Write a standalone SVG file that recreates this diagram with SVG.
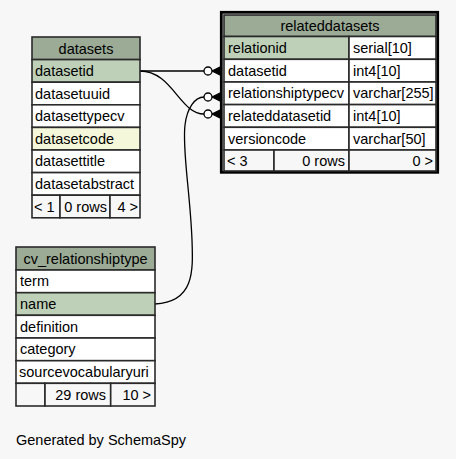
<svg xmlns="http://www.w3.org/2000/svg" width="456" height="459" viewBox="0 0 456 459">
<style>
text{font-family:"Liberation Sans",Arial,Helvetica,sans-serif;font-size:14.5px;fill:#000}
.c{stroke:#2a2a2a;stroke-width:1.6}
.h{fill:#9bab96}
.pk{fill:#bed1b8}
.ix{fill:#f4f7da}
.w{fill:#ffffff}
.f{fill:#f7f7f7}
.mid{text-anchor:middle}
.end{text-anchor:end}
.e{fill:none;stroke:#000;stroke-width:1.3}
.o{fill:#fff;stroke:#000;stroke-width:1.3}
</style>
<rect width="456" height="459" fill="#f7f7f7"/>

<g id="connectors">
<path class="e" d="M140,71 L204,71"/>
<path class="e" d="M140,71 C172,71 180,114 204,114"/>
<path class="e" d="M155,304 C195,302 193,270 192,240 C190,190 182,150 185,125 C187,108 195,97 204,97"/>
<g id="ends">
<circle class="o" cx="208" cy="71" r="4"/>
<polygon points="212,71 222,66 222,76" fill="#000"/>
<path class="e" d="M212,71 L224,65 M212,71 L224,77" stroke-width="0.8"/>
<circle class="o" cx="208" cy="97" r="4"/>
<polygon points="212,97 222,92 222,102" fill="#000"/>
<path class="e" d="M212,97 L224,91 M212,97 L224,103" stroke-width="0.8"/>
<circle class="o" cx="208" cy="114" r="4"/>
<polygon points="212,114 222,109 222,119" fill="#000"/>
<path class="e" d="M212,114 L224,108 M212,114 L224,120" stroke-width="0.8"/>
</g>
</g>

<g id="datasets">
<rect class="c h" x="32" y="37" width="108" height="22.6"/>
<text class="mid" x="86" y="53.5">datasets</text>
<rect class="c pk" x="32" y="59.6" width="108" height="22.6"/>
<text x="35" y="76">datasetid</text>
<rect class="c w" x="32" y="82.2" width="108" height="22.6"/>
<text x="35" y="98.6">datasetuuid</text>
<rect class="c w" x="32" y="104.8" width="108" height="22.6"/>
<text x="35" y="121.2">datasettypecv</text>
<rect class="c ix" x="32" y="127.4" width="108" height="22.6"/>
<text x="35" y="143.8">datasetcode</text>
<rect class="c w" x="32" y="150" width="108" height="22.6"/>
<text x="35" y="166.4">datasettitle</text>
<rect class="c w" x="32" y="172.6" width="108" height="22.6"/>
<text x="35" y="189">datasetabstract</text>
<rect class="c f" x="32" y="195.2" width="28" height="22.6"/>
<rect class="c f" x="60" y="195.2" width="50" height="22.6"/>
<rect class="c f" x="110" y="195.2" width="30" height="22.6"/>
<text x="34" y="211.6">&lt; 1</text>
<text class="end" x="107" y="211.6">0 rows</text>
<text class="end" x="138" y="211.6">4 &gt;</text>
</g>

<g id="relateddatasets">
<rect x="221.3" y="12.3" width="216.4" height="160" fill="#f7f7f7" stroke="#000" stroke-width="2.8"/>
<rect class="c h" x="224" y="15" width="212" height="21.5"/>
<text class="mid" x="330" y="31">relateddatasets</text>
<rect class="c pk" x="224" y="36.5" width="125" height="22.8"/>
<rect class="c w" x="349" y="36.5" width="87" height="22.8"/>
<text x="228" y="53">relationid</text>
<text x="353" y="53">serial[10]</text>
<rect class="c w" x="224" y="59.3" width="125" height="22.7"/>
<rect class="c w" x="349" y="59.3" width="87" height="22.7"/>
<text x="228" y="75.7">datasetid</text>
<text x="353" y="75.7">int4[10]</text>
<rect class="c w" x="224" y="82" width="125" height="22.6"/>
<rect class="c w" x="349" y="82" width="87" height="22.6"/>
<text x="228" y="98.3">relationshiptypecv</text>
<text x="353" y="98.3">varchar[255]</text>
<rect class="c w" x="224" y="104.6" width="125" height="22.7"/>
<rect class="c w" x="349" y="104.6" width="87" height="22.7"/>
<text x="228" y="121">relateddatasetid</text>
<text x="353" y="121">int4[10]</text>
<rect class="c w" x="224" y="127.3" width="125" height="22.7"/>
<rect class="c w" x="349" y="127.3" width="87" height="22.7"/>
<text x="228" y="143.7">versioncode</text>
<text x="353" y="143.7">varchar[50]</text>
<rect class="c f" x="224" y="150" width="50" height="21"/>
<rect class="c f" x="274" y="150" width="75" height="21"/>
<rect class="c f" x="349" y="150" width="87" height="21"/>
<text x="227" y="165.7">&lt; 3</text>
<text class="end" x="345" y="165.7">0 rows</text>
<text class="end" x="433" y="165.7">0 &gt;</text>
</g>

<g id="cv_relationshiptype">
<rect class="c h" x="16" y="247" width="139" height="23"/>
<text class="mid" x="85.5" y="263.5">cv_relationshiptype</text>
<rect class="c w" x="16" y="270" width="139" height="22.7"/>
<text x="20" y="286.4">term</text>
<rect class="c pk" x="16" y="292.7" width="139" height="22.6"/>
<text x="20" y="309">name</text>
<rect class="c w" x="16" y="315.3" width="139" height="22.7"/>
<text x="20" y="331.7">definition</text>
<rect class="c w" x="16" y="338" width="139" height="22.7"/>
<text x="20" y="354.4">category</text>
<rect class="c w" x="16" y="360.7" width="139" height="22.6"/>
<text x="19" y="377">sourcevocabularyuri</text>
<rect class="c f" x="16" y="383.3" width="29" height="22.7"/>
<rect class="c f" x="45" y="383.3" width="65.7" height="22.7"/>
<rect class="c f" x="110.7" y="383.3" width="44.3" height="22.7"/>
<text class="end" x="106" y="399.7">29 rows</text>
<text class="end" x="151" y="399.7">10 &gt;</text>
</g>

<text x="16" y="445">Generated by SchemaSpy</text>
</svg>
